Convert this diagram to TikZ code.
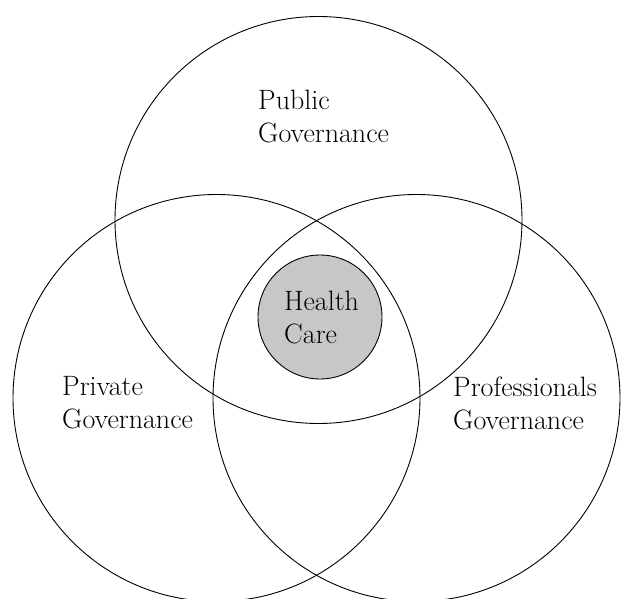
\documentclass[tikz,border=0pt]{standalone}
\usepackage{tikz}

\tikzset{
  sector/.style={draw, circle, line width=0.9pt, minimum size=407pt, inner sep=0pt},
  core/.style={draw, circle, line width=0.9pt, fill=black!22, minimum size=124pt, inner sep=0pt},
  tag/.style={anchor=west, align=left, inner sep=0pt, font=\fontsize{28}{33}\selectfont}
}

\begin{document}
\begin{tikzpicture}[x=1pt, y=-1pt]
    \useasboundingbox (0,0) rectangle (622,599);

    % Governance circles
    \node[sector] (public) at (318.5,220) {};
    \node[sector] (private) at (216.5,398) {};
    \node[sector] (prof) at (416.5,398) {};

    % Health care in the middle
    \node[core] (care) at (320,317) {};

    % Labels
    \node[tag] (publiclbl) at (258,117) {Public\\Governance};
    \node[tag] (privatelbl) at (62,403) {Private\\Governance};
    \node[tag] (proflbl) at (453,403) {Professionals\\Governance};
    \node[tag] (carelbl) at (284,318) {Health\\Care};
\end{tikzpicture}
\end{document}
